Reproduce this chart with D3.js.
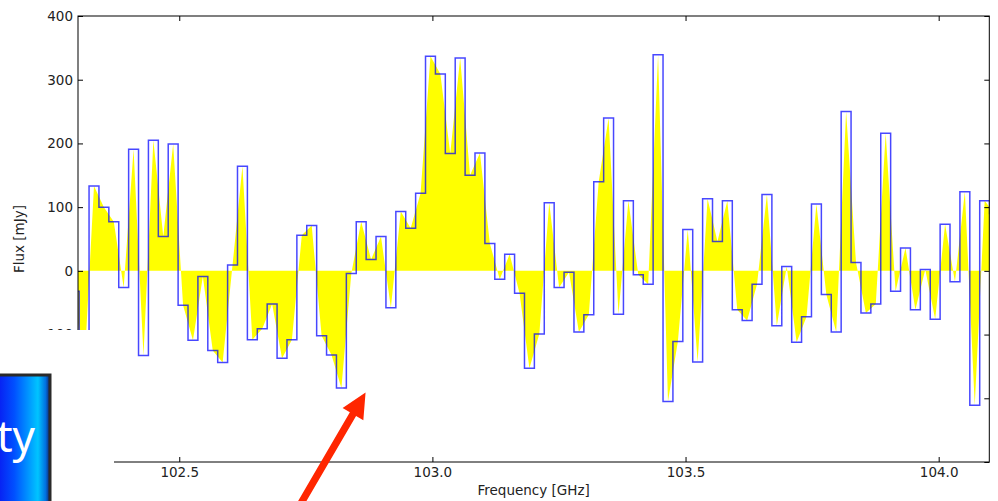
<!DOCTYPE html>
<html>
<head>
<meta charset="utf-8">
<script src="https://cdn.jsdelivr.net/npm/d3@7"></script>
<style>
  body { margin: 0; background: #fff; }
  text { font-family: "DejaVu Sans", sans-serif; }
</style>
</head>
<body>
<svg width="998" height="501"></svg>
<script>
// channel grid of the spectrum (GHz), first channel sits just left of the axis
var freqStart = 102.2925;
var chanWidth = 0.019547;

// flux per channel [mJy]
var flux = [
  -32, -160, 133, 100, 77, -26, 191, -133, 205, 54,
  199, -54, -109, -9, -125, -144, 9, 164, -108, -91,
  -52, -137, -108, 56, 71, -102, -132, -184, -4, 77,
  18, 54, -58, 93, 67, 122, 337, 309, 184, 334,
  150, 185, 43, -13, 26, -35, -153, -99, 107, -26,
  -2, -96, -69, 140, 240, -68, 110, -6, -21, 339,
  -205, -111, 65, -143, 113, 46, 110, -61, -78, -21,
  120, -86, 7, -112, -72, 105, -37, -96, 250, 13,
  -66, -52, 216, -32, 36, -61, 2, -76, 73, -17,
  124, -211, 110, 90
];

var xTicks = [102.5, 103.0, 103.5, 104.0];
var yTicks = [-300, -200, -100, 0, 100, 200, 300, 400];
var xDomain = [102.3, 104.1];
var yDomain = [-300, 400];

// annotation arrow, in data units (tail runs off the bottom of the page)
var arrowTail = [102.727, -383];
var arrowTip = [102.868, -191];

var svg = d3.select("svg"),
  width = +svg.attr("width"),
  height = +svg.attr("height");

var plotL = 78, plotR = 989.3, plotT = 16, plotB = 462;

var x = d3.scaleLinear().domain(xDomain).range([plotL, plotR]);
var y = d3.scaleLinear().domain(yDomain).range([plotB, plotT]);

var points = flux.map(function (v, i) {
  return { f: freqStart + i * chanWidth, v: v };
});

var defs = svg.append("defs");
defs.append("clipPath").attr("id", "plotclip")
  .append("rect")
  .attr("x", plotL).attr("y", plotT)
  .attr("width", plotR - plotL).attr("height", plotB - plotT);

var plot = svg.append("g").attr("clip-path", "url(#plotclip)");

// yellow fill between spectrum and zero, straight lines between channel centres
var area = d3.area()
  .x(function (d) { return x(d.f); })
  .y0(y(0))
  .y1(function (d) { return y(d.v); });

plot.append("path")
  .datum(points)
  .attr("d", area)
  .attr("fill", "#ffff00");

// blue histogram (steps-mid)
var line = d3.line()
  .curve(d3.curveStep)
  .x(function (d) { return x(d.f); })
  .y(function (d) { return y(d.v); });

plot.append("path")
  .datum(points)
  .attr("d", line)
  .attr("fill", "none")
  .attr("stroke", "#0000ff")
  .attr("stroke-opacity", 0.72)
  .attr("stroke-width", 1.5);

// axes, ticks pointing inward on all four sides
var fmtX = d3.format(".1f");

var gx = svg.append("g")
  .attr("transform", "translate(0," + plotB + ")")
  .call(d3.axisBottom(x).tickValues(xTicks).tickFormat(fmtX)
    .tickSizeInner(-5).tickSizeOuter(0).tickPadding(5.5));

var gy = svg.append("g")
  .attr("transform", "translate(" + plotL + ",0)")
  .call(d3.axisLeft(y).tickValues(yTicks).tickFormat(d3.format("d"))
    .tickSizeInner(-5).tickSizeOuter(0).tickPadding(5));

var gt = svg.append("g")
  .attr("transform", "translate(0," + plotT + ")")
  .call(d3.axisTop(x).tickValues(xTicks).tickFormat("")
    .tickSizeInner(-5).tickSizeOuter(0));

var gr = svg.append("g")
  .attr("transform", "translate(" + plotR + ",0)")
  .call(d3.axisRight(y).tickValues(yTicks).tickFormat("")
    .tickSizeInner(-5).tickSizeOuter(0));

[gx, gy, gt, gr].forEach(function (g) {
  g.select(".domain").remove();
  g.selectAll(".tick line").attr("stroke", "#000");
  g.selectAll(".tick text")
    .attr("fill", "#222")
    .style("font-size", "13.5px")
    .style("font-family", "DejaVu Sans, sans-serif");
});

svg.append("rect")
  .attr("x", plotL).attr("y", plotT)
  .attr("width", plotR - plotL).attr("height", plotB - plotT)
  .attr("fill", "none")
  .attr("stroke", "#000")
  .attr("stroke-width", 1);

svg.append("text")
  .attr("x", (plotL + plotR) / 2)
  .attr("y", 495)
  .attr("text-anchor", "middle")
  .attr("fill", "#222")
  .style("font-size", "13.5px")
  .text("Frequency [GHz]");

svg.append("text")
  .attr("transform", "translate(24," + (plotT + plotB) / 2 + ") rotate(-90)")
  .attr("text-anchor", "middle")
  .attr("fill", "#222")
  .style("font-size", "13.5px")
  .text("Flux [mJy]");

// ---- slide decorations laid over the figure ----
// white patch hiding the lower left corner
svg.append("rect")
  .attr("x", 0).attr("y", 330)
  .attr("width", 114).attr("height", height - 330)
  .attr("fill", "#fff");

var grad = defs.append("linearGradient")
  .attr("id", "boxgrad")
  .attr("x1", "0%").attr("x2", "100%").attr("y1", "0%").attr("y2", "0%");
grad.append("stop").attr("offset", "0%").attr("stop-color", "#0a14f0");
grad.append("stop").attr("offset", "35%").attr("stop-color", "#0050ff");
grad.append("stop").attr("offset", "78%").attr("stop-color", "#00c4ff");
grad.append("stop").attr("offset", "92%").attr("stop-color", "#0070e0");
grad.append("stop").attr("offset", "100%").attr("stop-color", "#10206a");

svg.append("rect")
  .attr("x", -5).attr("y", 375)
  .attr("width", 55).attr("height", 140)
  .attr("fill", "url(#boxgrad)")
  .attr("stroke", "#2a2a2a")
  .attr("stroke-width", 3);

svg.append("text")
  .attr("x", 35)
  .attr("y", 452)
  .attr("text-anchor", "end")
  .attr("fill", "#fff")
  .style("font-family", "'Noto Sans', sans-serif")
  .style("font-size", "44px")
  .text("ty");

// red arrow
var tail = [x(arrowTail[0]), y(arrowTail[1])],
  tip = [x(arrowTip[0]), y(arrowTip[1])];
var dx = tip[0] - tail[0], dy = tip[1] - tail[1],
  len = Math.sqrt(dx * dx + dy * dy);
var ux = dx / len, uy = dy / len, nx = -uy, ny = ux;
var headLen = 25, headHalf = 12, shaftHalf = 3.6;
var base = [tip[0] - ux * headLen, tip[1] - uy * headLen];
function pt(p, s) { return [p[0] + nx * s, p[1] + ny * s]; }
var arrowPts = [
  pt(tail, shaftHalf), pt(base, shaftHalf), pt(base, headHalf), tip,
  pt(base, -headHalf), pt(base, -shaftHalf), pt(tail, -shaftHalf)
];
svg.append("polygon")
  .attr("points", arrowPts.map(function (p) { return p.join(","); }).join(" "))
  .attr("fill", "#ff2600");
</script>
</body>
</html>
